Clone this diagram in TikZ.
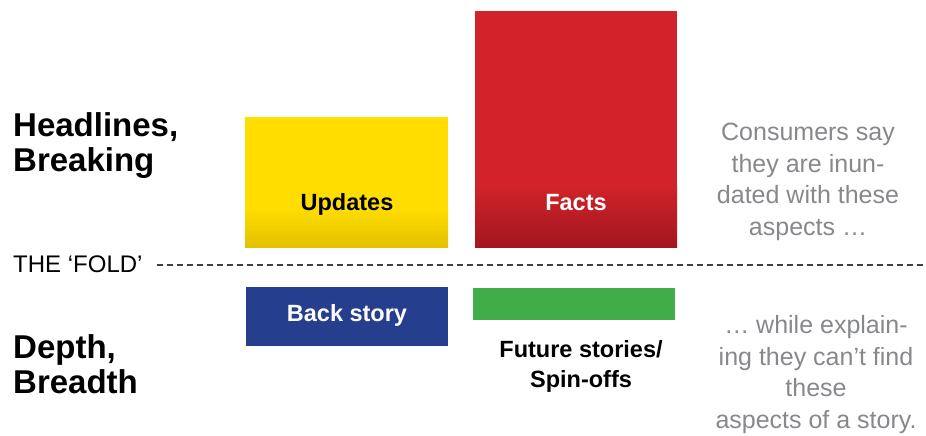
\documentclass[tikz,border=0pt]{standalone}
\usepackage{fontspec}
\setmainfont{Liberation Sans}
\usepackage{xcolor}
\usepackage{tikz}

\definecolor{updyellow}{HTML}{FFDD00}
\definecolor{updyellowdark}{HTML}{E3C100}
\definecolor{factred}{HTML}{D2232A}
\definecolor{factreddark}{HTML}{A3161E}
\definecolor{backblue}{HTML}{253F8E}
\definecolor{futuregreen}{HTML}{41AD49}
\definecolor{notegray}{HTML}{86888B}
\definecolor{foldgray}{HTML}{404040}

\tikzset{
  heading/.style={anchor=base west, inner sep=0pt, align=left,
    font=\fontsize{33}{35}\selectfont\bfseries},
  boxlabel/.style={anchor=base, inner sep=0pt, align=center,
    font=\fontsize{23.5}{30}\selectfont\bfseries},
  sidenote/.style={anchor=base, inner sep=0pt, align=center, text=notegray,
    font=\fontsize{25}{31.5}\selectfont},
  foldline/.style={color=foldgray, line width=1.6pt, dash pattern=on 6pt off 4pt},
}

\begin{document}
\begin{tikzpicture}[x=1pt, y=-1pt]
\useasboundingbox (0, 0) rectangle (926, 436);

% upper boxes
\fill [color = updyellow] (245, 117) rectangle (448, 247);
\shade [top color = updyellow, bottom color = updyellowdark] (245, 208) rectangle (448, 247);
\fill [color = factred] (475, 11) rectangle (677, 247);
\shade [top color = factred, bottom color = factreddark] (475, 185) rectangle (677, 247);

% lower boxes
\fill [color = backblue] (246, 287) rectangle (448, 346);
\fill [color = futuregreen] (473, 288) rectangle (675, 320);

% left headings (base = last line)
\node [heading] (headlines) at (13, 171) {Headlines,\\Breaking};
\node [heading] (depth) at (13, 393) {Depth,\\Breadth};

% the fold
\node [anchor = base west, inner sep = 0pt, font = \fontsize{24}{28}\selectfont]
    (fold) at (13, 272) {THE ‘FOLD’};
\coordinate (foldend) at (924, 265);
\draw [foldline] (fold.east |- foldend) ++(14, 0) coordinate (foldstart) -- (foldend);

% box labels
\node [boxlabel] (updates) at (347, 210) {Updates};
\node [boxlabel, text = white] (facts) at (576, 210) {Facts};
\node [boxlabel, text = white] (backstory) at (347, 321) {Back story};
\node [boxlabel] (future) at (581, 387) {Future stories/\\Spin-offs};

% notes on the right
\node [sidenote] (inundated) at (808, 235)
    {Consumers say\\they are inun-\\dated with these\\aspects …};
\node [sidenote] (cantfind) at (816, 428)
    {… while explain-\\ing they can’t find\\these\\aspects of a story.};
\end{tikzpicture}
\end{document}
